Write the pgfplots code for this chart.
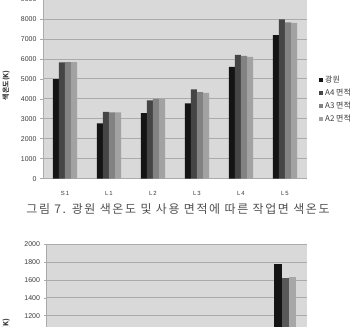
\documentclass[border=0pt]{standalone}
\usepackage{pgfplots}
\pgfplotsset{compat=1.18}
\usepackage{fontspec}
\setmainfont{Liberation Sans}
\newfontfamily\kr{Noto Sans CJK KR}
\newfontfamily\krcap[LetterSpace=14]{Noto Sans CJK KR}
\definecolor{c1}{HTML}{141414}
\definecolor{c2}{HTML}{454545}
\definecolor{c3}{HTML}{828282}
\definecolor{c4}{HTML}{A2A2A2}
\definecolor{bg}{HTML}{D9D9D9}
\definecolor{gridc}{HTML}{ABABAB}
\definecolor{txt}{HTML}{3A3A3A}
\definecolor{captc}{HTML}{505050}
\pgfplotsset{mybase/.style={
  scale only axis, ybar=0pt,
  xmin=-0.5, xmax=5.5, xtick={0,...,5},
  axis background/.style={fill=bg},
  ymajorgrids, grid style={gridc, line width=0.8bp},
  axis x line*=bottom, axis y line*=left,
  x axis line style={gridc, -}, y axis line style={gridc, -},
  tick align=outside, major tick length=3bp,
  xtick style={draw=none}, ytick style={gridc, line width=0.6bp},
  /pgf/number format/assume math mode=true,
  yticklabel style={font=\fontsize{7}{8}\selectfont, color=txt, /pgf/number format/1000 sep={}},
  xticklabel style={font=\fontsize{6}{7}\selectfont, color=txt, yshift=-6bp},
  ylabel style={font=\kr\bfseries\fontsize{7}{8}\selectfont, color=txt, anchor=center},
  legend cell align=left,
  legend image code/.code={\fill[##1, draw=none] (0bp,-2bp) rectangle (4bp,2bp);},
  legend style={draw=none, fill=none, inner sep=0pt, row sep=1.0bp,
     font=\kr\fontsize{8}{9}\selectfont, text=txt, anchor=north west},
}}
\begin{document}
\begin{tikzpicture}
\begin{axis}[mybase, at={(43bp,148.3bp)}, anchor=south west,
  width=264bp, height=179.7bp, bar width=6.1bp,
  ymin=0, ymax=9000, ytick={0,1000,...,9000},
  xticklabels={S\,1,L\,1,L\,2,L\,3,L\,4,L\,5},
  ylabel={색온도(K)}, ylabel style={at={(rel axis cs:-0.14,0.52)}},
  legend style={at={(1,0.585)}, xshift=12bp}]
\addplot[fill=c1, draw=none] coordinates {(0,4990) (1,2770) (2,3285) (3,3770) (4,5600) (5,7185)};
\addplot[fill=c2, draw=none] coordinates {(0,5820) (1,3350) (2,3920) (3,4470) (4,6200) (5,7985)};
\addplot[fill=c3, draw=none] coordinates {(0,5835) (1,3320) (2,4000) (3,4335) (4,6150) (5,7835)};
\addplot[fill=c4, draw=none] coordinates {(0,5835) (1,3320) (2,3985) (3,4300) (4,6100) (5,7800)};
\legend{광원, A4 면적, A3 면적, A2 면적}
\end{axis}
\node[font=\krcap\fontsize{12}{14}\selectfont, color=captc] at (178bp,118bp) {그림 7. 광원 색온도 및 사용 면적에 따른 작업면 색온도};
\begin{axis}[mybase, at={(46.5bp,-95.8bp)}, anchor=south west,
  width=260.5bp, height=178.5bp, bar width=7.2bp,
  ymin=0, ymax=2000, ytick={0,200,...,2000},
  xticklabels={},
  ylabel={색온도(K)}, ylabel style={at={(rel axis cs:-0.155,0.5)}},
  legend style={at={(1,0.535)}, xshift=12bp}]
\addplot[fill=c1, draw=none] coordinates {(5,1775)};
\addplot[fill=c2!90, draw=none] coordinates {(5,1625)};
\addplot[fill=c4!95, draw=none] coordinates {(5,1636)};
\legend{광원, A4 면적, A3 면적}
\end{axis}
\pgfresetboundingbox
\useasboundingbox (0bp,0bp) rectangle (355bp,327bp);
\end{tikzpicture}
\end{document}
